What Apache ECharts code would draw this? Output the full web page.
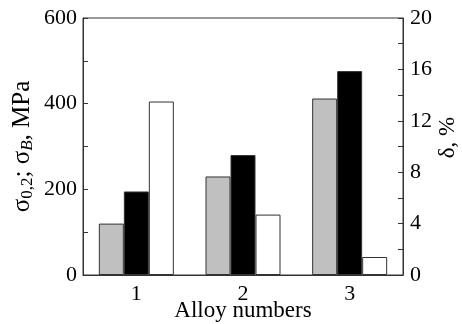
<!DOCTYPE html>
<html>
<head>
<meta charset="utf-8">
<script src="https://cdn.jsdelivr.net/npm/echarts@6/dist/echarts.min.js"></script>
<style>
  html, body { margin: 0; padding: 0; background: #fff; }
  #chart { width: 462px; height: 324px; }
</style>
</head>
<body>
<div id="chart"></div>
<script>
// alloys on the x axis
const alloys = ['1', '2', '3'];
// yield strength sigma 0.2, MPa (left axis)
const sigma02 = [120, 230, 412];
// tensile strength sigma B, MPa (left axis)
const sigmaB = [195, 280, 476];
// elongation delta, % (right axis)
const delta = [13.5, 4.7, 1.4];

const font = 'Liberation Serif';
const ink = '#333';

const chart = echarts.init(document.getElementById('chart'));

const barStyle = (color) => ({
  color: color,
  borderColor: ink,
  borderWidth: 1
});

chart.setOption({
  animation: false,
  textStyle: { fontFamily: font },
  grid: {
    left: 83, right: 59, top: 18, bottom: 49,
    outerBoundsMode: 'none',
    containLabel: false,
    show: true, borderColor: ink, borderWidth: 1
  },
  xAxis: {
    type: 'category',
    data: alloys,
    name: 'Alloy numbers',
    nameLocation: 'middle',
    nameGap: 24,
    nameMoveOverlap: false,
    nameTextStyle: { fontFamily: font, fontSize: 23, color: '#000' },
    axisLine: { lineStyle: { color: ink } },
    axisTick: { inside: true, length: 4, lineStyle: { color: ink } },
    axisLabel: { fontFamily: font, fontSize: 22, color: '#000', margin: 8 }
  },
  yAxis: [
    {
      type: 'value',
      min: 0, max: 600, interval: 200,
      name: '{a|σ}{s|0,2}{a|; σ}{i|B}{a|, MPa}',
      nameLocation: 'middle',
      nameGap: 47,
      nameMoveOverlap: false,
      nameRotate: 90,
      nameTextStyle: {
        color: '#000',
        rich: {
          a: { fontFamily: font, fontSize: 25, lineHeight: 28, color: '#000' },
          s: { fontFamily: font, fontSize: 17, lineHeight: 12, color: '#000', verticalAlign: 'bottom' },
          i: { fontFamily: font, fontSize: 17, lineHeight: 12, color: '#000', fontStyle: 'italic', verticalAlign: 'bottom' }
        }
      },
      splitLine: { show: false },
      axisLine: { show: true, lineStyle: { color: ink } },
      axisTick: { show: true, inside: true, length: 5, lineStyle: { color: ink } },
      minorTick: { show: true, splitNumber: 2, length: 5, lineStyle: { color: ink } },
      axisLabel: { fontFamily: font, fontSize: 22, color: '#000', margin: 6 }
    },
    {
      type: 'value',
      min: 0, max: 20, interval: 4,
      name: 'δ, %',
      nameLocation: 'middle',
      nameGap: 33,
      nameMoveOverlap: false,
      nameRotate: 90,
      nameTextStyle: { fontFamily: font, fontSize: 23, color: '#000', padding: [0, 0, 0, 18] },
      splitLine: { show: false },
      axisLine: { show: true, lineStyle: { color: ink } },
      axisTick: { show: true, inside: true, length: 5, lineStyle: { color: ink } },
      minorTick: { show: true, splitNumber: 2, length: 5, lineStyle: { color: ink } },
      axisLabel: { fontFamily: font, fontSize: 22, color: '#000', margin: 7 }
    }
  ],
  series: [
    { type: 'bar', data: sigma02, yAxisIndex: 0, barWidth: 25, barGap: '0%', itemStyle: barStyle('#c0c0c0') },
    { type: 'bar', data: sigmaB, yAxisIndex: 0, barWidth: 25, barGap: '0%', itemStyle: barStyle('#000') },
    { type: 'bar', data: delta, yAxisIndex: 1, barWidth: 25, barGap: '0%', itemStyle: barStyle('#fff') }
  ]
});
</script>
</body>
</html>
